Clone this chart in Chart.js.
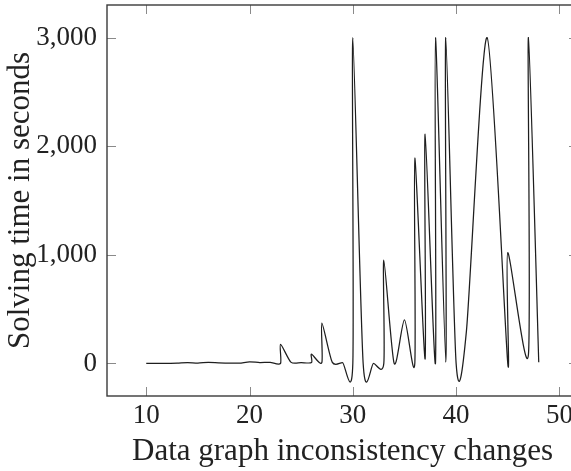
<!DOCTYPE html>
<html><head><meta charset="utf-8">
<script src="https://cdn.jsdelivr.net/npm/chart.js@4.4.1/dist/chart.umd.min.js"></script>
<style>
html,body{margin:0;padding:0;overflow:hidden;background:#fff;}
#wrap{width:580px;height:471px;position:relative;}
</style></head><body>
<div id="wrap"><canvas id="c"></canvas></div>
<script>
const changes = [10,11,12,13,14,15,16,17,18,19,20,21,22,23,23,24,25,26,26,27,27,28,29,30,30,31,32,33,33,34,35,36,36,37,37,38,38,39,39,40,41,43,45,45,47,47,48];
const solveSeconds = [0,0,1,3,8,3,10,6,3,3,14,8,10,0,175,12,8,8,85,8,370,12,8,0,3000,0,0,0,950,0,400,0,1890,40,2110,0,3000,10,3000,0,300,3000,0,1020,80,3000,10];
const xTickValues = [10,20,30,40,50];
const yTickValues = [0,1000,2000,3000];
const xTitle = 'Data graph inconsistency changes';
const yTitle = 'Solving time in seconds';

const points = changes.map((c, i) => ({x: c, y: solveSeconds[i]}));
const FONT = '"Liberation Serif", "Times New Roman", serif';
const K = 0.13;

const tikzSmooth = {
  id: 'tikzSmooth',
  beforeDatasetDraw(chart, args) {
    const line = args.meta.dataset;
    const pts = args.meta.data;
    for (let i = 0; i < pts.length; i++) {
      const p = pts[i], a = pts[i-1] || p, b = pts[i+1] || p;
      const dx = b.x - a.x, dy = b.y - a.y;
      p.cp1x = p.x - K*dx; p.cp1y = p.y - K*dy;
      p.cp2x = p.x + K*dx; p.cp2y = p.y + K*dy;
    }
    line._pointsUpdated = true;
    line._path = undefined;
  }
};

const frame = {
  id: 'frame',
  afterDatasetsDraw(chart) {
    const {ctx, chartArea: ca, scales: {x, y}} = chart;
    ctx.save();
    ctx.strokeStyle = '#8a8a8a'; ctx.lineWidth = 1;
    const L = 9;
    ctx.beginPath();
    x.ticks.forEach(t => { const px = Math.round(x.getPixelForValue(t.value)) + 0.5;
      ctx.moveTo(px, ca.bottom); ctx.lineTo(px, ca.bottom - L);
      ctx.moveTo(px, ca.top); ctx.lineTo(px, ca.top + L); });
    y.ticks.forEach(t => { const py = Math.round(y.getPixelForValue(t.value)) + 0.5;
      ctx.moveTo(ca.left, py); ctx.lineTo(ca.left + L, py);
      ctx.moveTo(ca.right, py); ctx.lineTo(ca.right - L, py); });
    ctx.stroke();
    ctx.strokeStyle = '#3a3a3a'; ctx.lineWidth = 1.4;
    ctx.strokeRect(ca.left, ca.top, ca.right - ca.left, ca.bottom - ca.top);
    ctx.restore();
  }
};

new Chart(document.getElementById('c'), {
  type: 'line',
  data: { datasets: [{
    data: points,
    borderColor: '#1e1e1e',
    borderWidth: 1.25,
    pointRadius: 0,
    tension: 0.4,
    fill: false
  }]},
  options: {
    responsive: true,
    maintainAspectRatio: false,
    animation: false,
    layout: { padding: { top: 5, right: 2, left: 0, bottom: 0 } },
    plugins: { legend: { display: false }, tooltip: { enabled: false } },
    scales: {
      x: {
        type: 'linear', min: 6.2, max: 51.8,
        afterBuildTicks: s => { s.ticks = xTickValues.map(v => ({value: v})); },
        afterFit: s => { s.height = 75; s.paddingLeft = 0; s.paddingRight = 0; },
        grid: { display: false, drawTicks: false },
        border: { display: false },
        ticks: { color: '#222', font: { family: FONT, size: 27 }, padding: 4, maxRotation: 0, autoSkip: false, callback: v => String(v) },
        title: { display: true, text: xTitle, color: '#222', font: { family: FONT, size: 31 }, padding: { top: 0, bottom: 1 } }
      },
      y: {
        type: 'linear', min: -300, max: 3300,
        afterBuildTicks: s => { s.ticks = yTickValues.map(v => ({value: v})); },
        afterFit: s => { s.width = 107; s.paddingTop = 0; s.paddingBottom = 0; },
        grid: { display: false, drawTicks: false },
        border: { display: false },
        ticks: { color: '#222', font: { family: FONT, size: 27 }, padding: 10, autoSkip: false, callback: v => v.toLocaleString('en-US') },
        title: { display: true, text: yTitle, color: '#222', font: { family: FONT, size: 31 }, padding: { top: 2, bottom: 0 } }
      }
    }
  },
  plugins: [tikzSmooth, frame]
});
</script>
</body></html>
